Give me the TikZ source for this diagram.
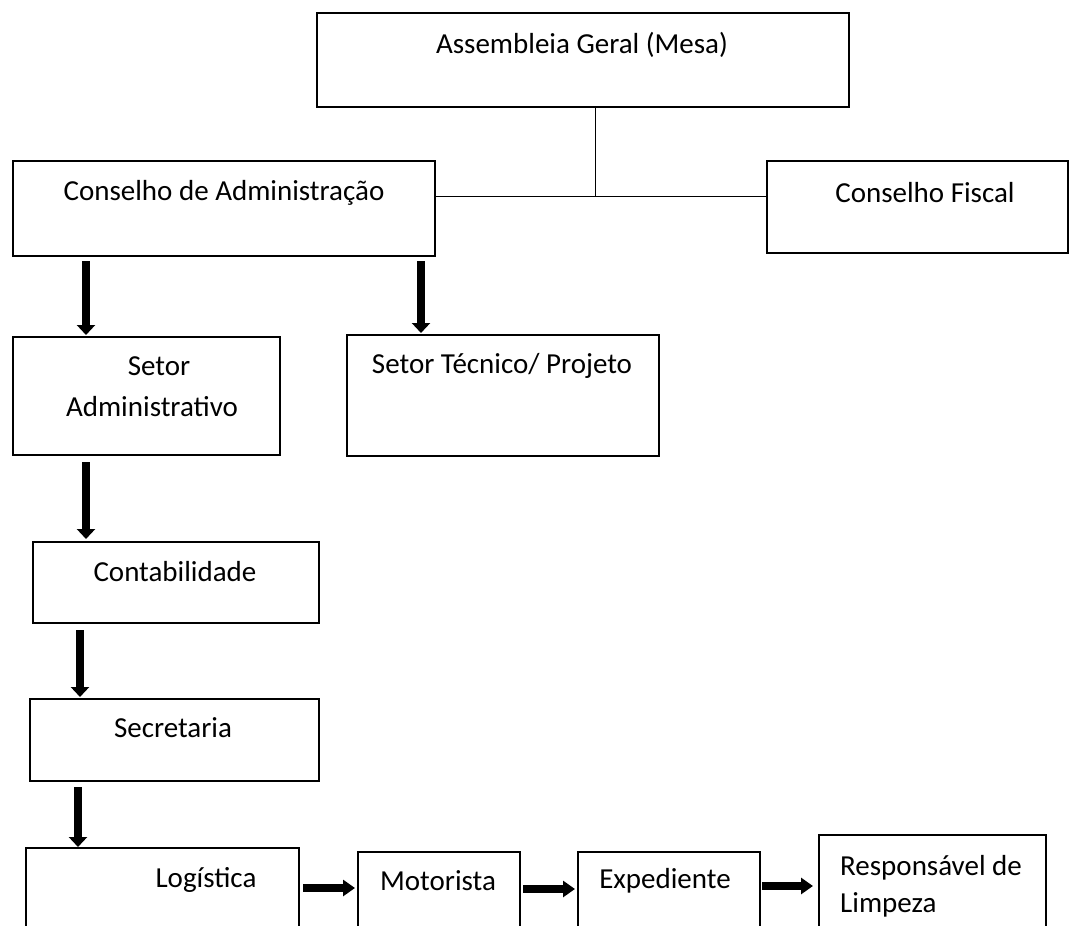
\documentclass[tikz,border=0pt]{standalone}
\usepackage{fontspec}
\setmainfont{Carlito}
\usetikzlibrary{arrows.meta,calc}
\begin{document}
\begin{tikzpicture}[x=1pt,y=-1pt,
  box/.style={draw, line width=2pt, rectangle, inner sep=0pt, anchor=north west},
  lbl/.style={font=\fontsize{29}{37}\selectfont, inner sep=0pt, align=center},
  link/.style={line width=1pt},
  varr/.style={line width=8pt, -{Triangle[width=18pt,length=10pt]}},
  harr/.style={line width=8pt, -{Triangle[width=16pt,length=12pt]}}]
\clip (0,0) rectangle (1069,926);
\fill[white] (0,0) rectangle (1069,926);
% boxes
\node[box, minimum width=532, minimum height=94] (ag) at (316,12) {};
\node[box, minimum width=422, minimum height=95] (ca) at (12,160) {};
\node[box, minimum width=301, minimum height=92] (cf) at (766,160) {};
\node[box, minimum width=267, minimum height=118] (sa) at (12,336) {};
\node[box, minimum width=312, minimum height=121] (st) at (346,334) {};
\node[box, minimum width=286, minimum height=81] (cb) at (32,541) {};
\node[box, minimum width=289, minimum height=82] (se) at (29,698) {};
\node[box, minimum width=273, minimum height=100] (lo) at (25,847) {};
\node[box, minimum width=162, minimum height=100] (mo) at (357,851) {};
\node[box, minimum width=182, minimum height=100] (ex) at (577,851) {};
\node[box, minimum width=227, minimum height=120] (rl) at (818,834) {};
% labels
\node[lbl] (tag) at (582,45) {Assembleia Geral (Mesa)};
\node[lbl] (tca) at (224,193) {Conselho de Administração};
\node[lbl] (tcf) at (925,193) {Conselho Fiscal};
\node[lbl] (tsa1) at (159,366) {Setor};
\node[lbl] (tsa2) at (152,407) {Administrativo};
\node[lbl] (tst) at (502,366) {Setor Técnico/ Projeto};
\node[lbl] (tcb) at (175,572) {Contabilidade};
\node[lbl] (tse) at (173,728) {Secretaria};
\node[lbl] (tlo) at (206,880) {Logística};
\node[lbl] (tmo) at (438,881) {Motorista};
\node[lbl] (tex) at (665,881) {Expediente};
\node[lbl, align=left, anchor=west] (trl) at (840,886) {Responsável de\\Limpeza};
% thin connectors
\coordinate (j) at (595,196);
\draw[link] (ag.south -| j) -- (j);
\draw[link] (ca.east |- j) -- (cf.west |- j);
% vertical arrows
\draw[varr] ($(ca.south west)+(74,4)$) -- ($(sa.north west)+(74,-1)$);
\draw[varr] ($(ca.south west)+(409,4)$) -- ($(st.north west)+(75,-1)$);
\draw[varr] ($(sa.south west)+(74,6)$) -- ($(cb.north west)+(54,-2)$);
\draw[varr] ($(cb.south west)+(48,6)$) -- ($(se.north west)+(51,-1)$);
\draw[varr] ($(se.south west)+(49,5)$) -- ($(lo.north west)+(53,0)$);
% horizontal arrows
\draw[harr] ($(lo.north east)+(3,41)$) -- ($(mo.north west)+(-2,37)$);
\draw[harr] ($(mo.north east)+(2,38)$) -- ($(ex.north west)+(-2,38)$);
\draw[harr] ($(ex.north east)+(1,35)$) -- ($(rl.north west)+(-5,52)$);
\end{tikzpicture}
\end{document}
